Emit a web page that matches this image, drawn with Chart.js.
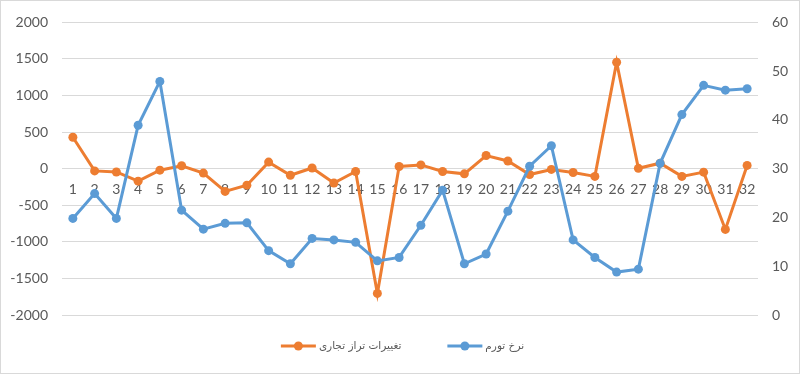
<!DOCTYPE html>
<html>
<head>
<meta charset="utf-8">
<script src="https://cdn.jsdelivr.net/npm/chart.js@4.4.1/dist/chart.umd.min.js"></script>
<style>
html,body{margin:0;padding:0;background:#fff;}
#wrap{width:800px;height:374px;position:relative;}
</style>
</head>
<body>
<div id="wrap"><canvas id="c" width="800" height="374"></canvas></div>
<script>
const categories = ["1","2","3","4","5","6","7","8","9","10","11","12","13","14","15","16","17","18","19","20","21","22","23","24","25","26","27","28","29","30","31","32"];
const tradeBalanceChange = [430,-30,-45,-170,-20,40,-60,-310,-225,90,-90,10,-195,-38,-1705,30,52,-38,-70,180,105,-80,-10,-52,-105,1455,5,75,-105,-47,-830,45];
const inflationRate = [19.8,24.9,19.8,38.9,47.9,21.5,17.6,18.8,18.9,13.2,10.5,15.7,15.4,14.9,11.1,11.8,18.4,25.6,10.5,12.5,21.3,30.5,34.7,15.4,11.8,8.8,9.4,31.1,41.1,47.1,46.1,46.4];
const leftTicks = [-2000,-1500,-1000,-500,0,500,1000,1500,2000];
const rightTicks = [0,10,20,30,40,50,60];
const seriesNames = ["تغییرات تراز تجاری","نرخ تورم"];

const ORANGE = "#ED7D31", BLUE = "#5B9BD5";
const TICK_FONT = { family: "Lato", size: 14 };

const borderPlugin = {
  id:"border",
  afterDraw(chart){
    const ctx = chart.ctx;
    ctx.save();
    ctx.strokeStyle = "#D9D9D9"; ctx.lineWidth = 1;
    ctx.strokeRect(0.5,0.5,chart.width-1,chart.height-1);
    ctx.restore();
  }
};

const legendPlugin = {
  id:"excelLegend",
  afterDraw(chart){
    const ctx = chart.ctx;
    const ds = chart.data.datasets;
    ctx.save();
    ctx.font = "10.5px 'DejaVu Sans'";
    const markerW = 35, gapText = 3, gapItem = 46;
    const widths = ds.map(d => ctx.measureText(d.label).width);
    let total = 0;
    widths.forEach((w,i)=>{ total += markerW + gapText + w + (i < ds.length-1 ? gapItem : 0); });
    let x = 402.5 - total/2;
    const y = 346;
    ds.forEach((d,i)=>{
      ctx.strokeStyle = d.borderColor; ctx.lineWidth = 3; ctx.lineCap = "butt";
      ctx.beginPath(); ctx.moveTo(x, y); ctx.lineTo(x+markerW, y); ctx.stroke();
      ctx.fillStyle = d.borderColor;
      ctx.beginPath(); ctx.arc(x+markerW/2, y, 4.5, 0, Math.PI*2); ctx.fill();
      x += markerW + gapText;
      ctx.fillStyle = "#595959";
      ctx.textAlign = "left"; ctx.textBaseline = "middle";
      ctx.fillText(d.label, x, y);
      x += widths[i] + gapItem;
    });
    ctx.restore();
  }
};

new Chart(document.getElementById("c"), {
  type: "line",
  data: {
    labels: categories,
    datasets: [
      {
        label: seriesNames[0],
        data: tradeBalanceChange,
        yAxisID: "y",
        borderColor: ORANGE, backgroundColor: ORANGE,
        borderWidth: 3, pointRadius: 4.5, pointBorderWidth: 0,
        pointBackgroundColor: ORANGE, tension: 0, order: 2
      },
      {
        label: seriesNames[1],
        data: inflationRate,
        yAxisID: "y1",
        borderColor: BLUE, backgroundColor: BLUE,
        borderWidth: 3, pointRadius: 4.5, pointBorderWidth: 0,
        pointBackgroundColor: BLUE, tension: 0, order: 1
      }
    ]
  },
  options: {
    responsive: false,
    animation: false,
    devicePixelRatio: 1,
    layout: { padding: { top: 7, bottom: 59, left: 0, right: 0 } },
    plugins: {
      legend: { display: false },
      tooltip: { enabled: false }
    },
    scales: {
      x: {
        type: "category",
        offset: true,
        position: { y: 0 },
        grid: { display: false, drawTicks: false },
        border: { display: false },
        ticks: { color: "#595959", font: TICK_FONT, padding: 12, maxRotation: 0, autoSkip: false }
      },
      y: {
        position: "left",
        min: -2000, max: 2000,
        afterBuildTicks(s){ s.ticks = leftTicks.map(v=>({value:v})); },
        afterFit(s){ s.width = 62; },
        grid: { color: "#D9D9D9", lineWidth: 1, drawTicks: false },
        border: { display: false },
        ticks: { color: "#595959", font: TICK_FONT, padding: 14, callback: v => String(v) }
      },
      y1: {
        position: "right",
        min: 0, max: 60,
        afterBuildTicks(s){ s.ticks = rightTicks.map(v=>({value:v})); },
        afterFit(s){ s.width = 42; },
        grid: { display: false, drawTicks: false },
        border: { display: false },
        ticks: { color: "#595959", font: TICK_FONT, padding: 14, callback: v => String(v) }
      }
    }
  },
  plugins: [borderPlugin, legendPlugin]
});
</script>
</body>
</html>
